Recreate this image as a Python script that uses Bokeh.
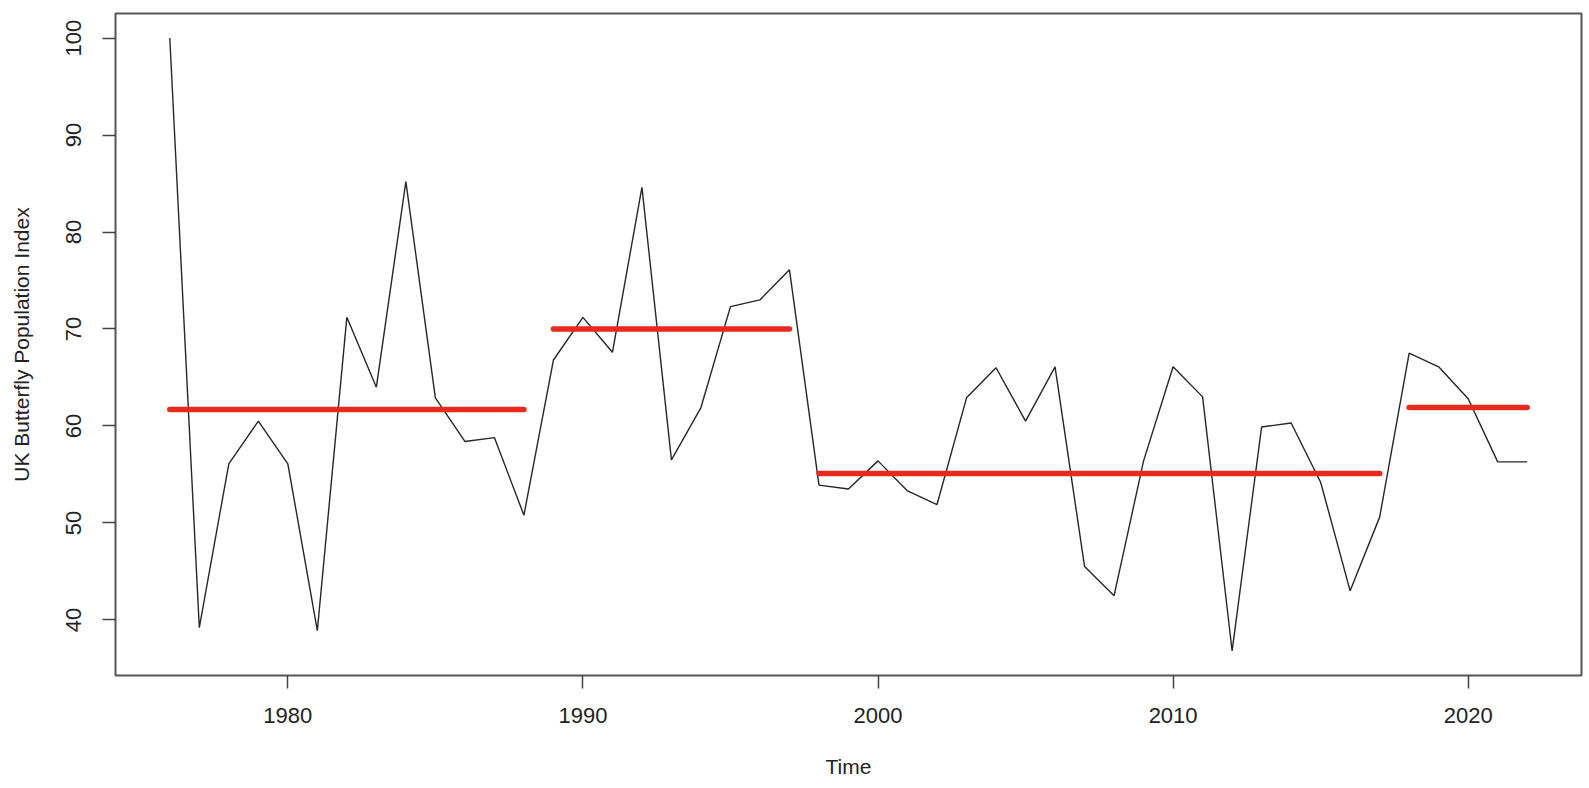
from bokeh.plotting import figure
from bokeh.models import Range1d, FixedTicker
from bokeh.embed import file_html
from bokeh.resources import INLINE

# ---- data ----
years = list(range(1976, 2023))
index_values = [100.0, 39.2, 56.1, 60.5, 56.1, 38.9, 71.2, 64.0, 85.2, 62.9,
                58.4, 58.8, 50.8, 66.8, 71.2, 67.6, 84.6, 56.5, 61.9, 72.3,
                73.0, 76.1, 53.9, 53.5, 56.4, 53.3, 51.9, 62.9, 66.0, 60.5,
                66.1, 45.5, 42.5, 56.4, 66.1, 63.0, 36.8, 59.9, 60.3, 54.2,
                43.0, 50.6, 67.5, 66.1, 62.8, 56.3, 56.3]

seg_start = [1976, 1989, 1998, 2018]
seg_end = [1988, 1997, 2017, 2022]
seg_mean = [61.7, 70.0, 55.1, 61.9]

x_ticks = [1980, 1990, 2000, 2010, 2020]
y_ticks = [40, 50, 60, 70, 80, 90, 100]

FONT = "Liberation Sans"
TEXT = "#222222"

p = figure(width=1589, height=786, output_backend="svg", toolbar_location=None,
           x_range=Range1d(1974.16, 2023.84), y_range=Range1d(34.27, 102.53),
           min_border_left=115, min_border_right=8, min_border_top=13,
           min_border_bottom=111)

p.background_fill_color = "white"
p.border_fill_color = "white"
p.outline_line_color = "#555555"
p.outline_line_width = 2
p.xgrid.visible = False
p.ygrid.visible = False

p.line(years, index_values, line_color="#262626", line_width=1.4)
p.segment(x0=seg_start, y0=seg_mean, x1=seg_end, y1=seg_mean,
          line_color="#e62b1e", line_width=5.5, line_cap="round")

for ax in (p.xaxis[0], p.yaxis[0]):
    ax.axis_line_color = None
    ax.major_tick_in = 0
    ax.major_tick_out = 13
    ax.major_tick_line_color = "#444444"
    ax.major_tick_line_width = 1.5
    ax.minor_tick_line_color = None
    ax.major_label_text_font = FONT
    ax.major_label_text_font_size = "22px"
    ax.major_label_text_color = TEXT
    ax.axis_label_text_font = FONT
    ax.axis_label_text_font_size = "21px"
    ax.axis_label_text_font_style = "normal"
    ax.axis_label_text_color = TEXT

p.xaxis[0].ticker = FixedTicker(ticks=x_ticks)
p.yaxis[0].ticker = FixedTicker(ticks=y_ticks)
p.yaxis[0].major_label_orientation = "vertical"
p.xaxis[0].major_label_standoff = 19
p.yaxis[0].major_label_standoff = 21
p.xaxis[0].axis_label = "Time"
p.yaxis[0].axis_label = "UK Butterfly Population Index"
p.xaxis[0].axis_label_standoff = 29
p.yaxis[0].axis_label_standoff = 31

open("out.html", "w").write(file_html(p, INLINE))
